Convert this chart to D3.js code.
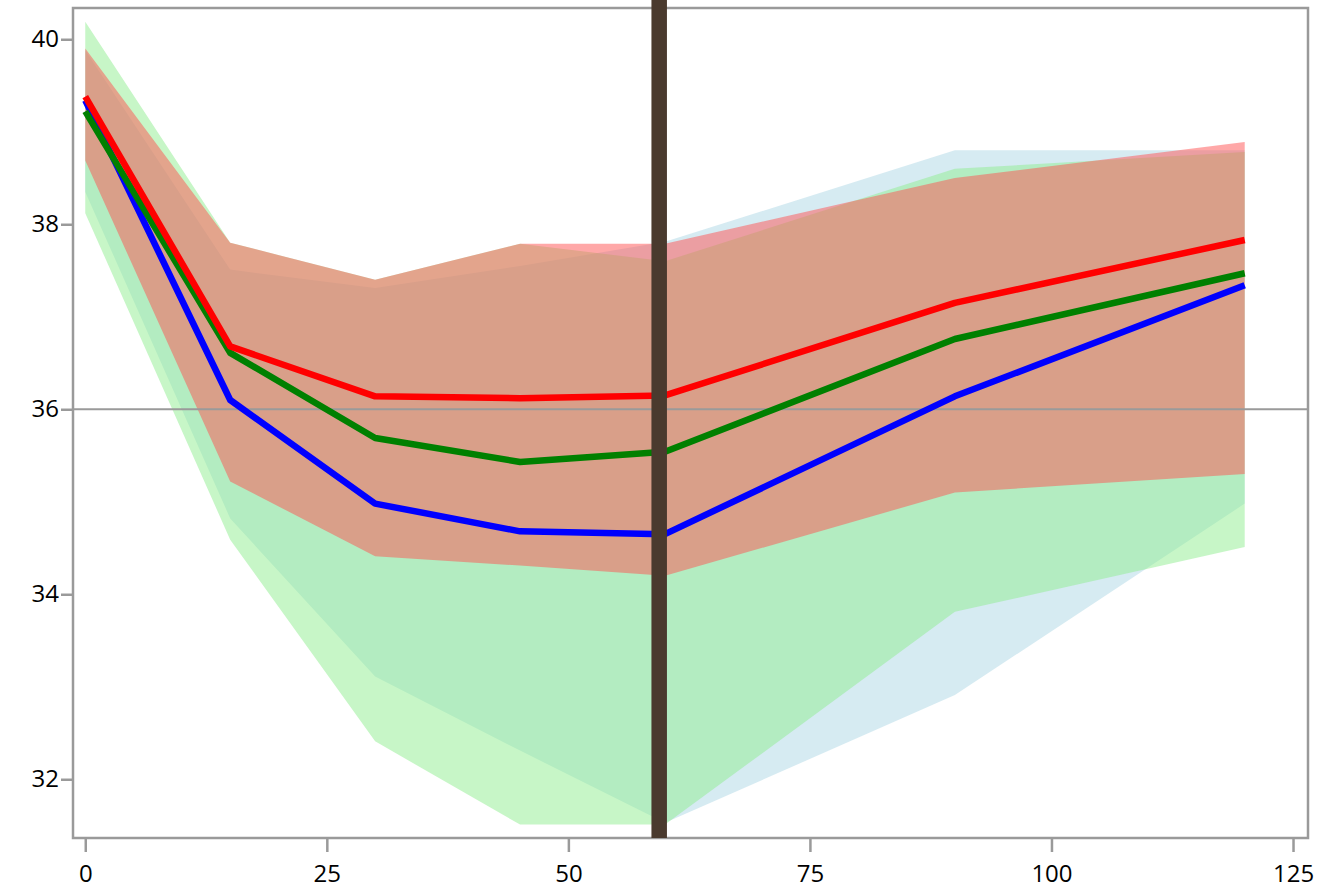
<!DOCTYPE html>
<html>
<head>
<meta charset="utf-8">
<script src="https://cdn.jsdelivr.net/npm/d3@7"></script>
<style>
  html, body { margin: 0; padding: 0; background: #ffffff; }
  svg { display: block; }
  .tick text { font-family: "Open Sans", "DejaVu Sans", sans-serif; font-size: 24px; fill: #000; }
</style>
</head>
<body>
<svg id="chart" width="1332" height="892"></svg>
<script>
// Sampling times
const times = [0, 15, 30, 45, 60, 90, 120];

// Group means
const redMean   = [39.38, 36.68, 36.14, 36.12, 36.15, 37.15, 37.83];
const greenMean = [39.22, 36.61, 35.69, 35.43, 35.54, 36.76, 37.47];
const blueMean  = [39.34, 36.10, 34.98, 34.68, 34.65, 36.14, 37.34];

// Band limits around each mean
const redUpper   = [39.90, 37.80, 37.40, 37.79, 37.79, 38.50, 38.89];
const redLower   = [38.69, 35.22, 34.41, 34.31, 34.20, 35.10, 35.30];
const greenUpper = [40.19, 37.80, 37.40, 37.79, 37.60, 38.60, 38.78];
const greenLower = [38.12, 34.59, 32.41, 31.51, 31.51, 33.81, 34.51];
const blueUpper  = [39.88, 37.51, 37.31, 37.55, 37.81, 38.80, 38.80];
const blueLower  = [38.35, 34.82, 33.11, 32.31, 31.53, 32.91, 34.98];

// Axis ticks and reference lines
const xTicks = [0, 25, 50, 75, 100, 125];
const yTicks = [32, 34, 36, 38, 40];
const refY = 36;
const refX = 59.4;

const svg = d3.select("#chart");
const frame = { left: 73, right: 1308, top: 8, bottom: 838 };

const x = d3.scaleLinear().domain([-1.27, 126.55]).range([frame.left, frame.right]);
const y = d3.scaleLinear().domain([31.365, 40.338]).range([frame.bottom, frame.top]);

const series = [
  { mean: blueMean,  lo: blueLower,  hi: blueUpper,  band: "#ADD8E6", line: "#0000FF" },
  { mean: greenMean, lo: greenLower, hi: greenUpper, band: "#90EE90", line: "#008000" },
  { mean: redMean,   lo: redLower,   hi: redUpper,   band: "#FF5252", line: "#FF0000" }
];

// Bands
const area = d3.area()
  .x(d => x(d.t))
  .y0(d => y(d.lo))
  .y1(d => y(d.hi));

svg.append("g").selectAll("path")
  .data(series)
  .join("path")
  .attr("d", s => area(times.map((t, i) => ({ t, lo: s.lo[i], hi: s.hi[i] }))))
  .attr("fill", s => s.band)
  .attr("fill-opacity", 0.5);

// Horizontal reference line
svg.append("line")
  .attr("x1", frame.left).attr("x2", frame.right)
  .attr("y1", y(refY)).attr("y2", y(refY))
  .attr("stroke", "#9a9a9a").attr("stroke-width", 2);

// Mean lines
const line = d3.line().x(d => x(d.t)).y(d => y(d.v));
svg.append("g").selectAll("path")
  .data(series)
  .join("path")
  .attr("d", s => line(times.map((t, i) => ({ t, v: s.mean[i] }))))
  .attr("fill", "none")
  .attr("stroke", s => s.line)
  .attr("stroke-width", 6.5)
  .attr("stroke-linejoin", "round");

// Axes
const xAxis = svg.append("g")
  .attr("transform", `translate(0,${frame.bottom + 1})`)
  .call(d3.axisBottom(x).tickValues(xTicks).tickSize(13).tickPadding(13).tickFormat(d3.format("d")));
xAxis.select(".domain").remove();
xAxis.selectAll(".tick line").attr("stroke", "#9a9a9a").attr("stroke-width", 2.5);

const yAxis = svg.append("g")
  .attr("transform", `translate(${frame.left - 1},0)`)
  .call(d3.axisLeft(y).tickValues(yTicks).tickSize(11).tickPadding(2).tickFormat(d3.format("d")));
yAxis.select(".domain").remove();
yAxis.selectAll(".tick line").attr("stroke", "#9a9a9a").attr("stroke-width", 2.5);

// Plot frame
svg.append("rect")
  .attr("x", frame.left).attr("y", frame.top)
  .attr("width", frame.right - frame.left).attr("height", frame.bottom - frame.top)
  .attr("fill", "none").attr("stroke", "#9a9a9a").attr("stroke-width", 2.5);

// Vertical marker
svg.append("line")
  .attr("x1", x(refX)).attr("x2", x(refX))
  .attr("y1", 0).attr("y2", frame.bottom)
  .attr("stroke", "#4a3a2e").attr("stroke-width", 15.5);
</script>
</body>
</html>
